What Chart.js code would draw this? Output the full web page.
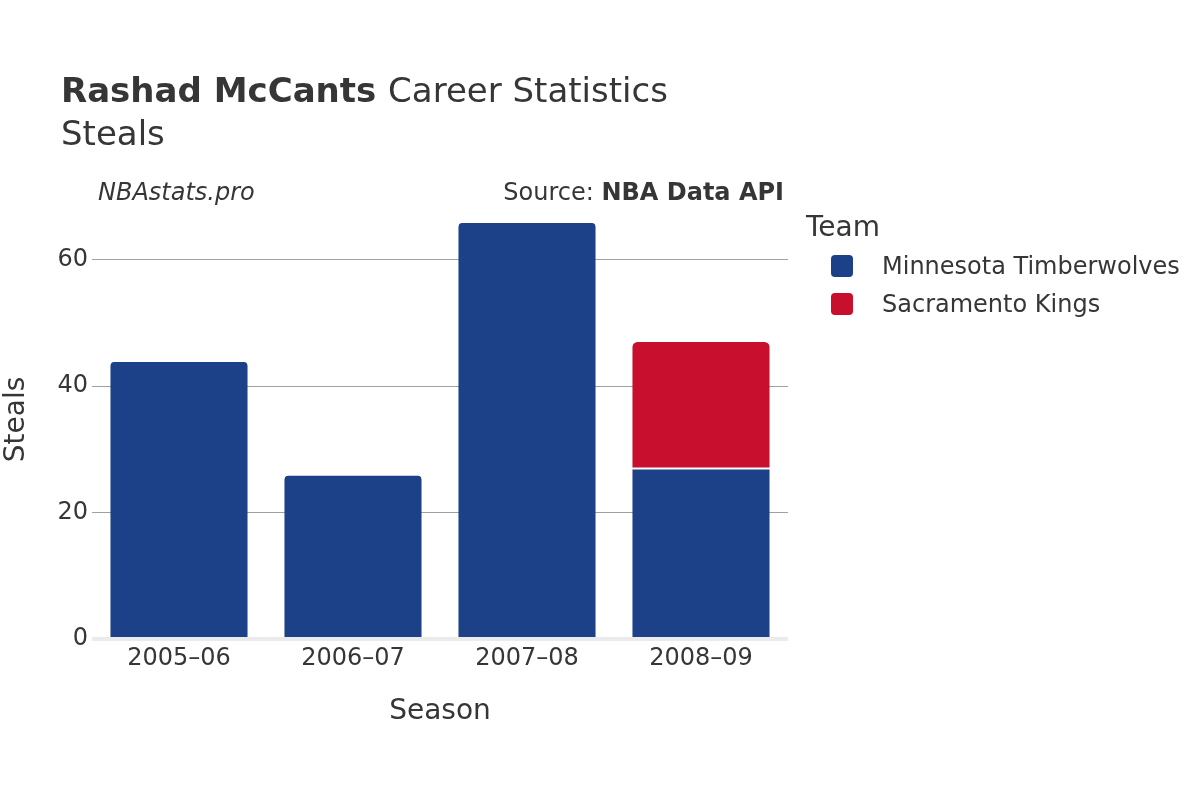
<!DOCTYPE html>
<html>
<head>
<meta charset="utf-8">
<script src="https://cdn.jsdelivr.net/npm/chart.js@4"></script>
<style>
    html, body { margin: 0; padding: 0; background: #fff; }
    #wrap { width: 1200px; height: 800px; }
</style>
</head>
<body>
<div id="wrap"><canvas id="chart" width="1200" height="800"></canvas></div>
<script>
'use strict';

const seasons = ['2005–06', '2006–07', '2007–08', '2008–09'];
const minnesotaSteals = [44, 26, 66, 27];
const sacramentoSteals = [0, 0, 0, 20];
const yTicks = [0, 20, 40, 60];
const teams = ['Minnesota Timberwolves', 'Sacramento Kings'];
const teamColors = ['#1C4188', '#C8102E'];

const FONT = '"DejaVu Sans", sans-serif';
const TEXT = '#363636';

function topRadius(values, above) {
    return function (ctx) {
        const i = ctx.dataIndex;
        if (above && above[i] > 0) return 0;
        return {topLeft: 5, topRight: 5, bottomLeft: 0, bottomRight: 0};
    };
}

const headerPlugin = {
    id: 'header',
    afterDraw(chart) {
        const c = chart.ctx;
        c.save();
        c.fillStyle = TEXT;
        c.textBaseline = 'alphabetic';
        c.textAlign = 'left';

        c.font = 'bold 34px ' + FONT;
        c.fillText('Rashad McCants', 61, 102);
        const w = c.measureText('Rashad McCants ').width;
        c.font = '34px ' + FONT;
        c.fillText('Career Statistics', 61 + w, 102);
        c.fillText('Steals', 61, 145);

        c.font = 'italic 24px ' + FONT;
        c.fillText('NBAstats.pro', 98, 200);

        c.textAlign = 'right';
        c.font = 'bold 24px ' + FONT;
        c.fillText('NBA Data API', 784, 200);
        const bw = c.measureText('NBA Data API').width;
        c.font = '24px ' + FONT;
        c.fillText('Source: ', 784 - bw, 200);

        // legend
        c.textAlign = 'left';
        c.textBaseline = 'middle';
        c.font = '28px ' + FONT;
        c.fillText('Team', 806, 229);
        c.font = '24px ' + FONT;
        teams.forEach(function (name, i) {
            const y = 266 + i * 38;
            c.fillStyle = teamColors[i];
            c.beginPath();
            c.roundRect(831, y - 11, 22, 22, 4);
            c.fill();
            c.fillStyle = TEXT;
            c.fillText(name, 882, y + 2);
        });
        c.restore();
    }
};

new Chart(document.getElementById('chart').getContext('2d'), {
    type: 'bar',
    data: {
        labels: seasons,
        datasets: [
            {
                label: teams[0],
                data: minnesotaSteals,
                backgroundColor: teamColors[0],
                borderColor: '#ffffff',
                borderWidth: {top: 1, left: 0, right: 0, bottom: 0},
                borderRadius: topRadius(minnesotaSteals, sacramentoSteals),
                borderSkipped: 'start'
            },
            {
                label: teams[1],
                data: sacramentoSteals,
                backgroundColor: teamColors[1],
                borderColor: '#ffffff',
                borderWidth: {top: 0, left: 0, right: 0, bottom: 1},
                borderRadius: topRadius(sacramentoSteals, null),
                borderSkipped: false
            }
        ]
    },
    options: {
        responsive: false,
        animation: false,
        devicePixelRatio: 1,
        layout: {padding: {left: 0, top: 200, right: 412, bottom: 70}},
        plugins: {
            legend: {display: false},
            title: {display: false},
            tooltip: {enabled: false}
        },
        datasets: {bar: {categoryPercentage: 1, barPercentage: 0.79}},
        scales: {
            x: {
                stacked: true,
                grid: {display: false, drawTicks: false},
                border: {display: false},
                ticks: {color: TEXT, font: {family: FONT, size: 24}, padding: 5, maxRotation: 0},
                title: {display: true, text: 'Season', color: TEXT, font: {family: FONT, size: 28}, padding: {top: 0, bottom: 1}},
                afterFit(scale) { scale.height = 91; }
            },
            y: {
                stacked: true,
                min: 0,
                max: 69.47,
                afterBuildTicks(scale) { scale.ticks = yTicks.map(function (v) { return {value: v}; }); },
                grid: {
                    drawTicks: false,
                    color: function (ctx) { return ctx.tick && ctx.tick.value === 0 ? '#ebebeb' : '#a0a0a0'; },
                    lineWidth: function (ctx) { return ctx.tick && ctx.tick.value === 0 ? 4 : 1; }
                },
                border: {display: false},
                ticks: {color: TEXT, font: {family: FONT, size: 24}, padding: 4, includeBounds: false},
                title: {display: true, text: 'Steals', color: TEXT, font: {family: FONT, size: 28}, padding: {top: 0, bottom: 0}},
                afterFit(scale) { scale.width = 92; }
            }
        }
    },
    plugins: [headerPlugin]
});
</script>
</body>
</html>
